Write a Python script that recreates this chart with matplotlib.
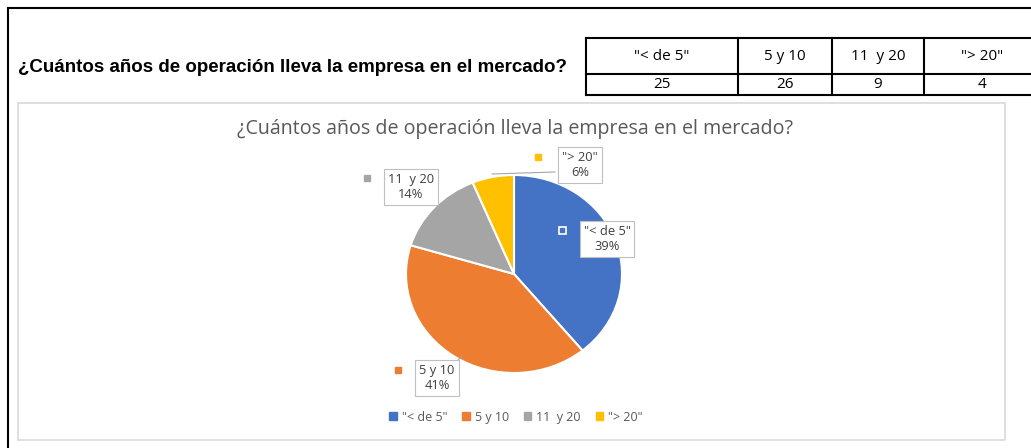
import matplotlib.pyplot as plt
from matplotlib.patches import Rectangle, Patch

# data
categories = ['"< de 5"', "5 y 10", "11  y 20", '"> 20"']
counts = [25, 26, 9, 4]
colors = ["#4472C4", "#ED7D31", "#A5A5A5", "#FFC000"]
question = "¿Cuántos años de operación lleva la empresa en el mercado?"

W, H = 1031, 448
fig = plt.figure(figsize=(W / 100, H / 100), dpi=100)

# pie (drawn under the overlay axes)
cx, cy, rx, ry = 514, 274, 108, 99
ax = fig.add_axes([(cx - rx) / W, 1 - (cy + ry) / H, 2 * rx / W, 2 * ry / H])
ax.pie(counts, colors=colors, startangle=90, counterclock=False,
       wedgeprops=dict(edgecolor="white", linewidth=1.5))
ax.set_aspect("auto")
ax.set_xlim(-1, 1)
ax.set_ylim(-1, 1)
ax.set_zorder(1)

# overlay axes in pixel coordinates
bg = fig.add_axes([0, 0, 1, 1])
bg.set_xlim(0, W)
bg.set_ylim(H, 0)
bg.axis("off")
bg.set_zorder(2)

# outer black frame (top and left edges)
bg.plot([8, W], [8, 8], color="black", lw=1.5)
bg.plot([8, 8], [8, H], color="black", lw=1.5)

# sheet heading
bg.text(18, 68, question, fontsize=13.5, fontweight="bold",
        family="Liberation Sans", va="center", ha="left", color="black")

# small data table
col_x = [586, 738, 832, 924, 1040]
row_y = [38, 74, 95]
for y in row_y:
    bg.plot([col_x[0], W], [y, y], color="black", lw=1.5)
for x in col_x[:-1]:
    bg.plot([x, x], [row_y[0], row_y[-1]], color="black", lw=1.5)
for i, (cat, n) in enumerate(zip(categories, counts)):
    tx = (col_x[i] + min(col_x[i + 1], W + 10)) / 2
    bg.text(tx, 56, cat, ha="center", va="center", fontsize=11,
            family="Open Sans", color="black")
    bg.text(tx, 85, str(n), ha="center", va="center", fontsize=11,
            family="Open Sans", color="black")

# chart area box
bg.add_patch(Rectangle((18, 103), 987, 337, fill=False,
                       edgecolor="#D9D9D9", lw=1.2))
bg.text(515, 129, question, ha="center", va="center", fontsize=14.1,
        family="Open Sans", color="#595959")

# data labels (callouts)
total = sum(counts)
label_pos = [(607, 239), (437, 378), (411, 187), (580, 165)]
marker_pos = [(562, 230), (398, 370), (367, 178), (538, 157)]
for i, (cat, n) in enumerate(zip(categories, counts)):
    lx, ly = label_pos[i]
    bg.text(lx, ly, f"{cat}\n{round(100 * n / total)}%", ha="center",
            va="center", fontsize=9.3, family="Open Sans", color="#404040",
            linespacing=1.25,
            bbox=dict(boxstyle="square,pad=0.3", fc="white",
                      ec="#BFBFBF", lw=0.8))
    mx, my = marker_pos[i]
    if i == 0:
        bg.add_patch(Rectangle((mx - 4, my - 4), 8, 8, fc="white",
                               ec="white", lw=0.5, zorder=5))
        bg.add_patch(Rectangle((mx - 2, my - 2), 4, 4, fc=colors[0],
                               ec=colors[0], zorder=6))
    else:
        bg.add_patch(Rectangle((mx - 3, my - 3), 6, 6, fc=colors[i],
                               ec=colors[i], zorder=5))

# leader lines
bg.plot([555, 492], [172, 174], color="#A6A6A6", lw=0.8)
bg.plot([436, 440], [205, 209], color="#A6A6A6", lw=0.8)
bg.plot([458, 462], [360, 356], color="#A6A6A6", lw=0.8)

# legend
handles = [Patch(color=c, label=l) for c, l in zip(colors, categories)]
fig.legend(handles=handles, loc="center", bbox_to_anchor=(516 / W, 1 - 417 / H),
           ncol=4, frameon=False, handlelength=0.6,
           handleheight=0.6, handletextpad=0.4, columnspacing=1.2,
           labelcolor="#595959", prop={"family": "Open Sans", "size": 9})

fig.savefig("out.png", dpi=100)
